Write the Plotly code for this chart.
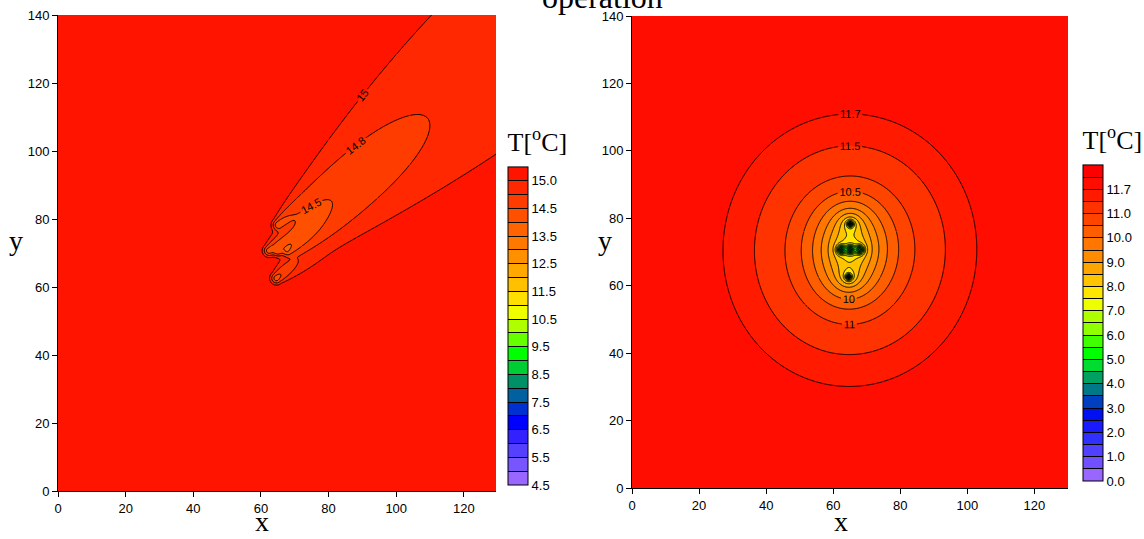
import numpy as np
import plotly.graph_objects as go

# ---------------- data ----------------
# contour / colour-band boundaries (°C)
levels_left = [4.5, 5.0, 5.5, 6.0, 6.5, 7.0, 7.5, 8.0, 8.5, 9.0, 9.5, 10.0,
               10.5, 11.0, 11.5, 12.0, 12.5, 13.0, 13.5, 14.0, 14.5, 14.8, 15.0, 15.2]
levels_right = [0.0, 0.5, 1.0, 1.5, 2.0, 2.5, 3.0, 3.5, 4.0, 4.5, 5.0, 5.5, 6.0,
                6.5, 7.0, 7.5, 8.0, 8.5, 9.0, 9.5, 10.0, 10.5, 11.0, 11.5, 11.7, 11.8, 11.9]

# band colours, lowest band first
colors_left = ["#9966FF", "#7755FF", "#5540FF", "#3322FF", "#0000FF", "#0030D0",
               "#0060A0", "#009068", "#00CC33", "#00FF00", "#66FF00", "#B0FF00",
               "#F0FF00", "#FFE000", "#FFC000", "#FFA800", "#FF9000", "#FF7800",
               "#FF6400", "#FF5000", "#FF3C00", "#FF2800", "#FF1400"]
colors_right = ["#9966FF", "#7050FF", "#5040FF", "#3030FF", "#1A1AFF", "#0010F0",
                "#0040C0", "#007888", "#00A060", "#00DD30", "#00FF00", "#40FF00",
                "#90FF00", "#B0FF00", "#EEFF00", "#FFE600", "#FFC400", "#FFA500",
                "#FF8C00", "#FF7700", "#FF5E00", "#FF4400", "#FF3300", "#FF1A00",
                "#FF0D00", "#FF0000"]

# colour-bar tick labels
cb_ticks_left = ["4.5", "5.5", "6.5", "7.5", "8.5", "9.5", "10.5", "11.5",
                 "12.5", "13.5", "14.5", "15.0"]
cb_ticks_right = ["0.0", "1.0", "2.0", "3.0", "4.0", "5.0", "6.0", "7.0", "8.0",
                  "9.0", "10.0", "11.0", "11.7"]

# labelled isotherms and the window (centre x, centre y, half-width, half-height)
# in which each label is placed
labeled_left = [14.5, 14.8, 15.0]
label_win_left = [(74.0, 84.0, 12.0, 12.0), (88.0, 100.0, 16.0, 14.0),
                  (90.0, 117.0, 10.0, 14.0)]
labeled_right = [10.0, 10.5, 11.0, 11.5, 11.7]
label_win_right = [(65.0, 56.5, 13.0, 6.0), (65.0, 84.0, 16.0, 8.0),
                   (65.0, 49.5, 14.0, 5.0), (65.0, 97.0, 20.0, 8.0),
                   (65.0, 109.0, 20.0, 7.0)]

# borehole positions (m)
well_x = [65.1, 62.4, 65.1, 67.9, 64.6]
well_y = [78.3, 70.7, 70.7, 70.7, 62.6]

# field parameters
T0_left = 15.1          # undisturbed ground temperature, left case
flow_angle_deg = 41.0   # groundwater-flow direction (left case)
q_left = 0.80           # plume strength per borehole
s0_left = 1.0           # plume width at the borehole
k_left = 0.2            # plume spreading rate
su_left = 1.0           # upstream decay length

T0_right = 11.79        # undisturbed ground temperature, right case
q_right = [0.45, 0.18, 0.18, 0.18, 0.45]       # line-source strength per borehole
core_right = [2.5, 3.5, 3.5, 3.5, 2.5]         # borehole-wall cooling
core_r_right = [0.8, 1.2, 1.2, 1.2, 0.8]
s2_right = 800.0        # line-source diffusion scale (m^2)
rw_right = 0.1          # borehole radius

x_max_left, x_max_right, y_max = 129.5, 130.0, 140.0

# ---------------- page geometry ----------------
W, H = 1144, 539
ML, MR, MT, MB = 40, 70, 10, 40
PW, PH = W - ML - MR, H - MT - MB


def fx(px):
    return (px - ML) / PW


def fy(py):
    return (H - MB - py) / PH


# ---------------- fields ----------------
def exp1(x):
    x = np.asarray(x, float)
    out = np.empty_like(x)
    m = x <= 1.0
    a = x[m]
    out[m] = (-np.log(a) - 0.57721566 + a * (0.99999193 + a * (-0.24991055 + a * (
        0.05519968 + a * (-0.00976004 + a * 0.00107857)))))
    b = x[~m]
    out[~m] = ((b * b + 2.334733 * b + 0.250621) / (b * b + 3.330657 * b + 1.681534)
               / (b * np.exp(b)))
    return out


def grid(xmax, fine_x, fine_y, step_c, step_f):
    xs = np.unique(np.round(np.concatenate([np.arange(0, xmax + 1e-9, step_c),
                                            np.arange(fine_x[0], fine_x[1], step_f)]), 4))
    ys = np.unique(np.round(np.concatenate([np.arange(0, y_max + 1e-9, step_c),
                                            np.arange(fine_y[0], fine_y[1], step_f)]), 4))
    return xs, ys


# left: plume under groundwater flow
xl, yl = grid(x_max_left, (56, 76), (58, 86), 0.5, 0.25)
XL, YL = np.meshgrid(xl, yl)
TL = np.full(XL.shape, T0_left)
th = np.deg2rad(flow_angle_deg)
for wx, wy in zip(well_x, well_y):
    dx, dy = XL - wx, YL - wy
    xi = dx * np.cos(th) + dy * np.sin(th)
    eta = -dx * np.sin(th) + dy * np.cos(th)
    sig = s0_left + k_left * np.maximum(xi, 0)
    up = np.exp(-np.minimum(xi, 0) ** 2 / (2 * su_left ** 2))
    TL -= q_left / sig * np.exp(-eta ** 2 / (2 * sig ** 2)) * up
TL = np.clip(TL, levels_left[0], levels_left[-1])

# right: pure conduction
xr, yr = grid(x_max_right, (57, 73), (57, 84), 0.5, 0.15)
XR, YR = np.meshgrid(xr, yr)
TR = np.full(XR.shape, T0_right)
for wx, wy, q, c, cr in zip(well_x, well_y, q_right, core_right, core_r_right):
    r2 = (XR - wx) ** 2 + (YR - wy) ** 2
    TR -= q * exp1((r2 + rw_right ** 2) / s2_right)
    TR -= c * np.exp(-r2 / cr ** 2)
TR = np.clip(TR, levels_right[0], levels_right[-1])


def to_index(T, levels):
    return np.interp(T, levels, np.arange(len(levels))).astype(np.float32)


def discrete_scale(colors):
    n = len(colors)
    return [[i / (n - 1), c] for i, c in enumerate(colors)]


fig = go.Figure()
label_font = dict(family="Liberation Sans, Arial", size=11, color="black")
line_style = dict(color="black", width=1, smoothing=0.6)


def add_lines(x, y, z, start, end, size, xa, ya, labels=False):
    fig.add_trace(go.Contour(
        x=x, y=y, z=z, autocontour=False,
        contours=dict(start=start, end=end, size=size, coloring="none",
                      showlabels=labels, labelformat=".3~g", labelfont=label_font),
        line=line_style, showscale=False, hoverinfo="skip", xaxis=xa, yaxis=ya,
    ))


def add_labeled_level(x, y, z, v, win, xa, ya):
    """One isotherm split into tiles so that its label lands inside win."""
    cx, cy, hx, hy = win
    ix0 = int(np.searchsorted(x, cx - hx))
    ix1 = int(np.searchsorted(x, cx + hx))
    iy0 = int(np.searchsorted(y, cy - hy))
    iy1 = int(np.searchsorted(y, cy + hy))
    ny, nx = z.shape
    tiles = [(0, iy0 + 1, 0, nx), (iy1, ny, 0, nx),
             (iy0, iy1 + 1, 0, ix0 + 1), (iy0, iy1 + 1, ix1, nx)]
    for r0, r1, c0, c1 in tiles:
        if r1 - r0 >= 2 and c1 - c0 >= 2:
            add_lines(x[c0:c1], y[r0:r1], z[r0:r1, c0:c1], v, v, 1, xa, ya)
    add_lines(x[ix0:ix1 + 1], y[iy0:iy1 + 1], z[iy0:iy1 + 1, ix0:ix1 + 1], v, v, 1,
              xa, ya, labels=True)


panels = [
    dict(x=xl, y=yl, T=TL, levels=levels_left, colors=colors_left, ticks=cb_ticks_left,
         labeled=labeled_left, win=label_win_left,
         xa="x", ya="y", cbx=508, cby0=129, cby1=485),
    dict(x=xr, y=yr, T=TR, levels=levels_right, colors=colors_right, ticks=cb_ticks_right,
         labeled=labeled_right, win=label_win_right,
         xa="x2", ya="y2", cbx=1083, cby0=127, cby1=481),
]

for p in panels:
    lv = p["levels"]
    n = len(lv) - 1
    tickvals = list(range(n + 1))
    ticktext = [("%.1f" % v) if ("%.1f" % v) in p["ticks"] else "" for v in lv]
    fig.add_trace(go.Contour(
        x=p["x"], y=p["y"], z=to_index(p["T"], lv),
        zmin=0, zmax=n, autocontour=False,
        contours=dict(start=1, end=n - 1, size=1, coloring="fill", showlines=False),
        colorscale=discrete_scale(p["colors"]),
        line=dict(width=0),
        hoverinfo="skip",
        xaxis=p["xa"], yaxis=p["ya"],
        colorbar=dict(
            x=fx(p["cbx"]), xanchor="left", xpad=0,
            y=fy(p["cby1"]), yanchor="bottom", ypad=0,
            len=(p["cby1"] - p["cby0"]) / PH, lenmode="fraction",
            thickness=20, thicknessmode="pixels",
            outlinewidth=1, outlinecolor="black",
            tickmode="array", tickvals=tickvals, ticktext=ticktext,
            ticks="inside", ticklen=20, tickwidth=1, tickcolor="black",
            tickfont=dict(family="Liberation Sans, Arial", size=13, color="black"),
            title=dict(text="T[<sup>o</sup>C]", side="top",
                       font=dict(family="Liberation Serif, Times New Roman", size=26,
                                 color="black")),
        ),
    ))
    Tf = p["T"].astype(np.float32)
    unl = [v for v in lv[:-1] if v not in p["labeled"]]
    reg = [v for v in unl if abs(v * 2 - round(v * 2)) < 1e-9]
    add_lines(p["x"], p["y"], Tf, min(reg), max(reg), 0.5, p["xa"], p["ya"])
    for v, win in zip(p["labeled"], p["win"]):
        add_labeled_level(p["x"], p["y"], Tf, v, win, p["xa"], p["ya"])

axis_common = dict(showgrid=False, zeroline=False, showline=True, linecolor="black",
                   linewidth=1, ticks="outside", ticklen=5, tickcolor="black",
                   tickfont=dict(family="Liberation Sans, Arial", size=13, color="black"),
                   dtick=20, tick0=0)

fig.update_layout(
    width=W, height=H, margin=dict(l=ML, r=MR, t=MT, b=MB, autoexpand=False),
    paper_bgcolor="white", plot_bgcolor="white", showlegend=False,
    xaxis=dict(domain=[fx(58), fx(496)], range=[0, x_max_left], anchor="y", **axis_common),
    yaxis=dict(domain=[fy(491), fy(15)], range=[0, y_max], anchor="x", **axis_common),
    xaxis2=dict(domain=[fx(632), fx(1068)], range=[0, x_max_right], anchor="y2", **axis_common),
    yaxis2=dict(domain=[fy(488), fy(16)], range=[0, y_max], anchor="x2", **axis_common),
)

serif = "Liberation Serif, Times New Roman"
ann = [
    dict(text="operation", px=602, py=-3, size=32, anchor="middle"),
    dict(text="y", px=16, py=240, size=28, anchor="middle"),
    dict(text="x", px=262, py=539, size=28, anchor="bottom"),
    dict(text="y", px=605, py=240, size=28, anchor="middle"),
    dict(text="x", px=841, py=539, size=28, anchor="bottom"),
]
for a in ann:
    fig.add_annotation(text=a["text"], x=fx(a["px"]), y=fy(a["py"]), xref="paper",
                       yref="paper", xanchor="center", yanchor=a["anchor"], showarrow=False,
                       font=dict(family=serif, size=a["size"], color="black"))

fig.write_html("out.html")
